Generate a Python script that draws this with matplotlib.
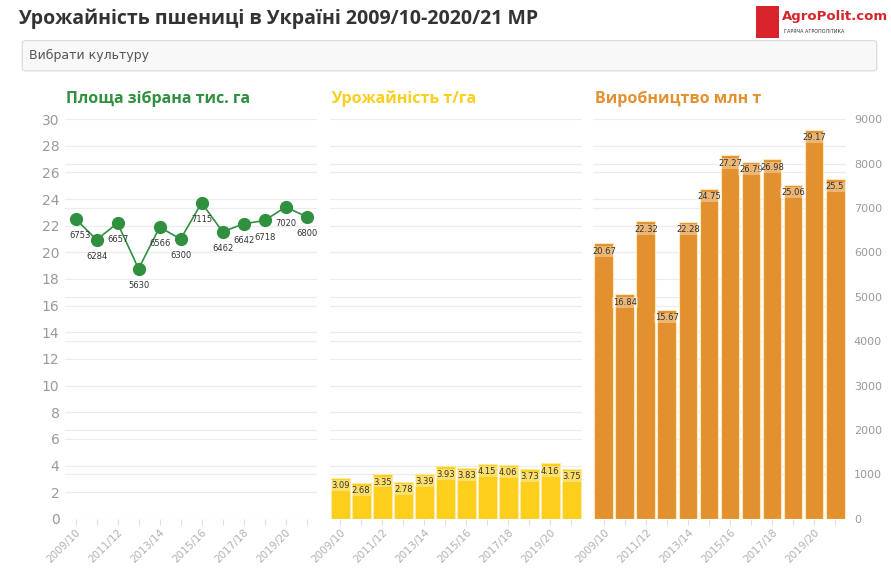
import matplotlib.pyplot as plt
from matplotlib.patches import Rectangle, FancyBboxPatch

# Дані
seasons = ["2009/10", "2010/11", "2011/12", "2012/13", "2013/14", "2014/15",
           "2015/16", "2016/17", "2017/18", "2018/19", "2019/20", "2020/21"]
area = [6753, 6284, 6657, 5630, 6566, 6300, 7115, 6462, 6642, 6718, 7020, 6800]
yield_t = [3.09, 2.68, 3.35, 2.78, 3.39, 3.93, 3.83, 4.15, 4.06, 3.73, 4.16, 3.75]
production = [20.67, 16.84, 22.32, 15.67, 22.28, 24.75, 27.27, 26.79, 26.98, 25.06, 29.17, 25.5]

left_ticks = list(range(0, 31, 2))
right_ticks = list(range(0, 9001, 1000))

GREEN = "#30903f"
YELLOW = "#fbcf1b"
ORANGE = "#e3912e"
GRID = "#ececec"
TICK = "#9a9a9a"

fig = plt.figure(figsize=(8.91, 5.81), dpi=100)

# заголовок, логотип і "пошук"
fig.text(0.02, 0.968, "Урожайність пшениці в Україні 2009/10-2020/21 МР",
         fontsize=14, fontweight="bold", color="#333333", va="center", family="Open Sans")
fig.text(0.878, 0.972, "AgroPolit.com", fontsize=9.5, fontweight="bold",
         color="#d8232a", va="center", ha="left")
fig.text(0.88, 0.945, "ГАРЯЧА АГРОПОЛІТИКА", fontsize=3.5, color="#333333",
         va="center", ha="left")
fig.patches.append(Rectangle((0.849, 0.935), 0.025, 0.055, transform=fig.transFigure,
                             facecolor="#d8232a", edgecolor="none"))
fig.patches.append(FancyBboxPatch((0.025, 0.878), 0.959, 0.052, transform=fig.transFigure,
                                  boxstyle="round,pad=0,rounding_size=0.004",
                                  facecolor="#f8f8f8", edgecolor="#d9d9d9", linewidth=0.8))
fig.text(0.032, 0.905, "Вибрати культуру", fontsize=9, color="#555555", va="center")

bottom, height = 0.107, 0.688
panels = [
    (0.073, "Площа зібрана тис. га", GREEN),
    (0.370, "Урожайність т/га", YELLOW),
    (0.666, "Виробництво млн т", ORANGE),
]

axes = []
for left, title, col in panels:
    ax = fig.add_axes([left, bottom, 0.283, height])
    ax.set_xlim(-0.5, 11.5)
    ax.set_ylim(0, 30)
    for v in left_ticks:
        ax.axhline(v, color=GRID, lw=0.8, zorder=0)
    for v in right_ticks:
        ax.axhline(v / 300, color=GRID, lw=0.8, zorder=0)
    for s in ax.spines.values():
        s.set_visible(False)
    ax.set_xticks(range(len(seasons)))
    ax.set_xticklabels([s if i % 2 == 0 else "" for i, s in enumerate(seasons)],
                       rotation=45, ha="right", rotation_mode="anchor",
                       fontsize=7.5, color="#b0b0b0")
    ax.tick_params(axis="x", length=4, color="#e0e0e0", pad=2)
    ax.set_yticks([])
    ax.text(0.005, 1.03, title, transform=ax.transAxes, fontsize=11.5,
            fontweight="bold", color=col, va="bottom", ha="left", family="Open Sans")
    axes.append(ax)

ax1, ax2, ax3 = axes

# ліва вісь
ax1.set_yticks(left_ticks)
ax1.tick_params(axis="y", length=0, labelsize=10, labelcolor=TICK, pad=4)

# площа
ax1b = ax1.twinx()
ax1b.set_ylim(0, 9000)
ax1b.set_yticks([])
for s in ax1b.spines.values():
    s.set_visible(False)
x = list(range(len(seasons)))
ax1b.plot(x, area, color=GREEN, lw=1.2, marker="o", markersize=8.5, zorder=3)
for i, v in enumerate(area):
    ax1b.annotate(str(v), (i, v), xytext=(3 if i == 0 else 0, -12),
                  textcoords="offset points", ha="center", va="center",
                  fontsize=6, color="#333333")

# урожайність
ax2.bar(x, yield_t, width=0.9, color=YELLOW, edgecolor="#fde9a0", linewidth=0.8, zorder=2)
for i, v in enumerate(yield_t):
    ax2.text(i, v - 0.25, f"{v:g}", ha="center", va="top", fontsize=6, color="#333333",
             bbox=dict(boxstyle="square,pad=0.1", facecolor="white", alpha=0.35,
                       edgecolor="none"), zorder=3)

# виробництво
ax3.bar(x, production, width=0.9, color=ORANGE, edgecolor="#fce8b8", linewidth=0.8, zorder=2)
for i, v in enumerate(production):
    ax3.text(i, v - 0.25, f"{v:g}", ha="center", va="top", fontsize=6, color="#333333",
             bbox=dict(boxstyle="square,pad=0.1", facecolor="white", alpha=0.35,
                       edgecolor="none"), zorder=3)

ax3r = ax3.twinx()
ax3r.set_ylim(0, 9000)
ax3r.set_yticks(right_ticks)
ax3r.tick_params(axis="y", length=0, labelsize=8, labelcolor=TICK, pad=6)
for s in ax3r.spines.values():
    s.set_visible(False)

fig.savefig("out.png", dpi=100, facecolor="white")
